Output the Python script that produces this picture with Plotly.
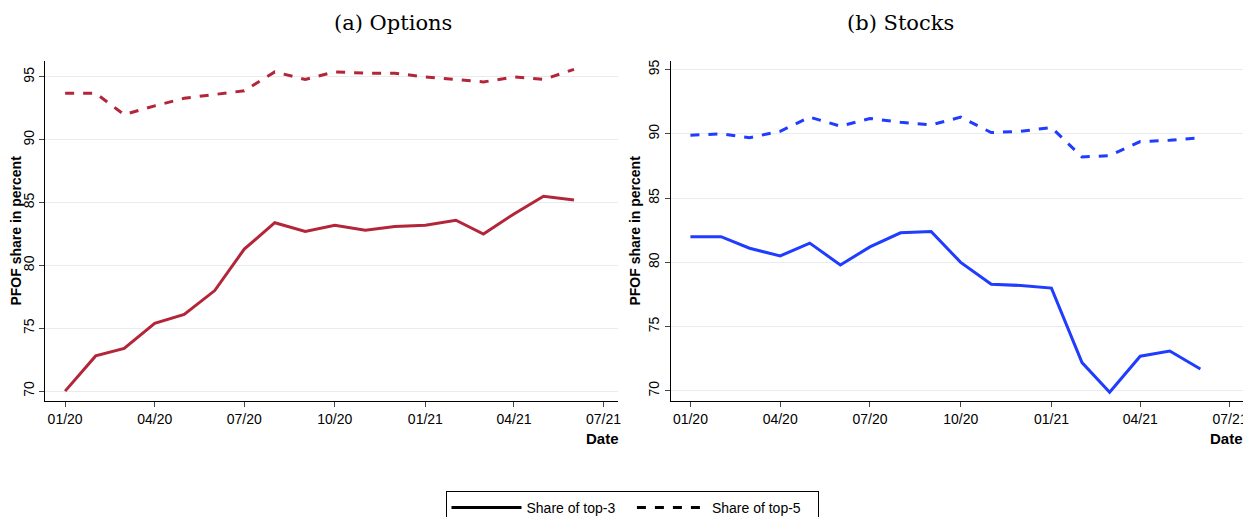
import plotly.graph_objects as go
import pandas as pd

months = pd.date_range("2020-01-01", periods=18, freq="MS")
opt_top3 = [70.0, 72.8, 73.4, 75.4, 76.1, 78.0, 81.3, 83.4, 82.7, 83.2, 82.8, 83.1, 83.2, 83.6, 82.5, 84.1, 85.5, 85.2]
opt_top5 = [93.7, 93.7, 92.0, 92.7, 93.3, 93.6, 93.9, 95.4, 94.8, 95.4, 95.3, 95.3, 95.0, 94.8, 94.6, 95.0, 94.8, 95.6]
stk_top3 = [82.0, 82.0, 81.1, 80.5, 81.5, 79.8, 81.2, 82.3, 82.4, 80.0, 78.3, 78.2, 78.0, 72.2, 69.9, 72.7, 73.1, 71.7]
stk_top5 = [89.9, 90.0, 89.7, 90.2, 91.3, 90.6, 91.2, 90.9, 90.7, 91.3, 90.1, 90.2, 90.5, 88.2, 88.3, 89.4, 89.5, 89.7]
tick_dates = ["2020-01-01", "2020-04-01", "2020-07-01", "2020-10-01", "2021-01-01", "2021-04-01", "2021-07-01"]
tick_text = ["01/20", "04/20", "07/20", "10/20", "01/21", "04/21", "07/21"]
y_ticks = [70, 75, 80, 85, 90, 95]

red = "#b3263a"
blue = "#1f3cff"

fig = go.Figure()
fig.add_trace(go.Scatter(x=months, y=opt_top3, mode="lines", line=dict(color=red, width=3), showlegend=False, xaxis="x", yaxis="y"))
fig.add_trace(go.Scatter(x=months, y=opt_top5, mode="lines", line=dict(color=red, width=3, dash="dash"), showlegend=False, xaxis="x", yaxis="y"))
fig.add_trace(go.Scatter(x=months, y=stk_top3, mode="lines", line=dict(color=blue, width=3), showlegend=False, xaxis="x2", yaxis="y2"))
fig.add_trace(go.Scatter(x=months, y=stk_top5, mode="lines", line=dict(color=blue, width=3, dash="dash"), showlegend=False, xaxis="x2", yaxis="y2"))
# entrées de légende
fig.add_trace(go.Scatter(x=[None], y=[None], mode="lines", line=dict(color="black", width=3), name="Share of top-3   "))
fig.add_trace(go.Scatter(x=[None], y=[None], mode="lines", line=dict(color="black", width=3, dash="dash"), name="Share of top-5   "))

xcommon = dict(type="date", tickvals=tick_dates, ticktext=tick_text, showgrid=False,
               showline=True, linecolor="black", ticks="outside", ticklen=5,
               tickfont=dict(size=14, color="black"), range=["2019-12-12", "2021-07-16"])
ycommon = dict(tickvals=y_ticks, showgrid=True, gridcolor="#e8ecef", showline=True, linecolor="black",
               ticks="outside", ticklen=5, tickangle=-90, tickfont=dict(size=14, color="black"),
               zeroline=False)

fig.update_layout(
    width=1251, height=517, plot_bgcolor="white", paper_bgcolor="white",
    margin=dict(l=0, r=0, t=0, b=0),
    font=dict(family="Liberation Sans", color="black"),
    xaxis=dict(domain=[0.030, 0.489], **xcommon),
    yaxis=dict(domain=[0.24, 0.90], range=[69.2, 96.3], anchor="x",
               title=dict(text="<b>PFOF share in percent</b>", font=dict(size=14), standoff=2), **ycommon),
    xaxis2=dict(domain=[0.531, 0.991], anchor="y2", **xcommon),
    yaxis2=dict(domain=[0.24, 0.90], range=[69.2, 95.7], anchor="x2",
                title=dict(text="<b>PFOF share in percent</b>", font=dict(size=14), standoff=2), **ycommon),
    legend=dict(orientation="h", x=0.5, xanchor="center", y=0.0, yanchor="bottom",
                bordercolor="black", borderwidth=1, font=dict(size=14), itemwidth=70),
    annotations=[
        dict(text="(a) Options", x=0.26, y=1.0, xref="paper", yref="paper", showarrow=False,
             yanchor="top", font=dict(family="DejaVu Serif", size=21)),
        dict(text="(b) Stocks", x=0.76, y=1.0, xref="paper", yref="paper", showarrow=False,
             yanchor="top", font=dict(family="DejaVu Serif", size=21)),
        dict(text="<b>Date</b>", x=0.491, y=0.148, xref="paper", yref="paper", showarrow=False,
             xanchor="right", font=dict(size=15)),
        dict(text="<b>Date</b>", x=0.991, y=0.148, xref="paper", yref="paper", showarrow=False,
             xanchor="right", font=dict(size=15)),
    ],
)

fig.write_html("out.html")
